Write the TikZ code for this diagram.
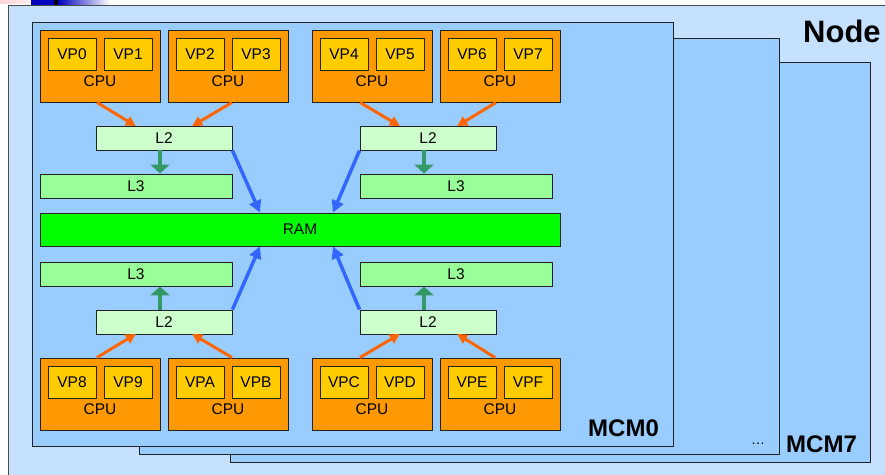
\documentclass[tikz,border=0pt]{standalone}
\usepackage{fontspec}
\setmainfont{Liberation Sans}
\usetikzlibrary{arrows.meta}
\definecolor{outerbg}{HTML}{C6E1FF}
\definecolor{mcmbg}{HTML}{99CCFF}
\definecolor{cpuc}{HTML}{FF9900}
\definecolor{vpc}{HTML}{FFCC00}
\definecolor{ltwo}{HTML}{CCFFCC}
\definecolor{lthree}{HTML}{99FF99}
\definecolor{ramc}{HTML}{00FF00}
\definecolor{oarrow}{HTML}{FF6600}
\definecolor{garrow}{HTML}{339966}
\definecolor{barrow}{HTML}{3366FF}
\definecolor{edge}{HTML}{222222}
\begin{document}
\begin{tikzpicture}[x=1pt,y=-1pt,
  lbl/.style={font=\fontsize{15.5}{17}\selectfont, text=black, inner sep=0pt},
  bigl/.style={font=\fontsize{24}{28}\bfseries\selectfont, text=black, inner sep=0pt, anchor=base west},
  mcmbox/.style={draw=edge, line width=0.9pt, fill=mcmbg},
  cpubox/.style={draw=edge, line width=0.9pt, fill=cpuc, minimum width=120pt, minimum height=72pt, inner sep=0pt},
  vpbox/.style={draw=edge, line width=0.9pt, fill=vpc, minimum width=48pt, minimum height=32pt, inner sep=0pt, lbl},
  ltwobox/.style={draw=edge, line width=0.9pt, fill=ltwo, minimum width=136pt, minimum height=24pt, inner sep=0pt, lbl},
  lthreebox/.style={draw=edge, line width=0.9pt, fill=lthree, minimum width=192pt, minimum height=24pt, inner sep=0pt, lbl},
  rambox/.style={draw=edge, line width=0.9pt, fill=ramc, minimum width=520pt, minimum height=33pt, inner sep=0pt, lbl},
  oarr/.style={draw=oarrow, line width=3pt, -{Triangle[length=10pt,width=10pt]}, shorten >=-1pt},
  garr/.style={draw=garrow, line width=4.5pt, -{Triangle[length=9pt,width=19pt]}},
  barr/.style={draw=barrow, line width=3.5pt, -{Triangle[length=12pt,width=12pt]}}
]
\useasboundingbox (0,0) rectangle (885,474);
\fill[white] (0,0) rectangle (885,474);
% top-left decoration
\shade[left color=pink!70, right color=white] (0,0) rectangle (47,3);
\fill[blue!75!black] (31,0) rectangle (54,6);
\fill[black] (54,0) rectangle (58,6);
\shade[left color=blue!75!black, right color=white] (58,0) rectangle (110,6);
% outer node box
\draw[draw=black!70, line width=0.9pt, fill=outerbg] (8,5) rectangle (900,490);
\node[font=\fontsize{31}{34}\bfseries\selectfont, inner sep=0pt, anchor=base west] (nodelbl) at (803,42) {Node};
% MCM boxes (back to front)
\draw[mcmbox] (230,62) rectangle (870,462);
\draw[mcmbox] (139,38) rectangle (779,454);
\draw[mcmbox] (32,22) rectangle (673,446);
\node[bigl] (mcm7) at (786,452) {MCM7};
\node[font=\fontsize{14}{16}\selectfont, inner sep=0pt, anchor=base west] (dots) at (751,444) {\ldots};
\node[bigl] (mcm0) at (588,436) {MCM0};
% CPUs top
\foreach \n/\x/\a/\b in {c1/100/VP0/VP1, c2/228/VP2/VP3, c3/372/VP4/VP5, c4/500/VP6/VP7}{
  \node[cpubox] (\n) at (\x,66) {};
  \node[vpbox] (\n a) at (\x-28,54) {\a};
  \node[vpbox] (\n b) at (\x+28,54) {\b};
  \node[lbl] (\n l) at (\x,81) {CPU};
}
% CPUs bottom
\foreach \n/\x/\a/\b in {c5/100/VP8/VP9, c6/228/VPA/VPB, c7/372/VPC/VPD, c8/500/VPE/VPF}{
  \node[cpubox] (\n) at (\x,394) {};
  \node[vpbox] (\n a) at (\x-28,382) {\a};
  \node[vpbox] (\n b) at (\x+28,382) {\b};
  \node[lbl] (\n l) at (\x,409) {CPU};
}
% caches and RAM
\node[ltwobox] (l2a) at (164,138) {L2};
\node[ltwobox] (l2b) at (428,138) {L2};
\node[lthreebox] (l3a) at (136,186) {L3};
\node[lthreebox] (l3b) at (456,186) {L3};
\node[rambox] (ram) at (300,229.5) {RAM};
\node[lthreebox] (l3c) at (136,274) {L3};
\node[lthreebox] (l3d) at (456,274) {L3};
\node[ltwobox] (l2c) at (164,322) {L2};
\node[ltwobox] (l2d) at (428,322) {L2};
% orange arrows
\draw[oarr] ([xshift=-3pt]c1.south) -- ([xshift=-29pt]l2a.north);
\draw[oarr] ([xshift=4pt]c2.south) -- ([xshift=29pt]l2a.north);
\draw[oarr] ([xshift=-12pt]c3.south) -- ([xshift=-29pt]l2b.north);
\draw[oarr] ([xshift=-4pt]c4.south) -- ([xshift=30pt]l2b.north);
\draw[oarr] ([xshift=-3pt]c5.north) -- ([xshift=-29pt]l2c.south);
\draw[oarr] ([xshift=4pt]c6.north) -- ([xshift=29pt]l2c.south);
\draw[oarr] ([xshift=-12pt]c7.north) -- ([xshift=-29pt]l2d.south);
\draw[oarr] ([xshift=-5pt]c8.north) -- ([xshift=30pt]l2d.south);
% green arrows
\draw[garr] ([xshift=-4pt]l2a.south) -- ([xshift=24pt]l3a.north);
\draw[garr] ([xshift=-4pt]l2b.south) -- ([xshift=-32pt]l3b.north);
\draw[garr] ([xshift=-4pt]l2c.north) -- ([xshift=24pt]l3c.south);
\draw[garr] ([xshift=-4pt]l2d.north) -- ([xshift=-32pt]l3d.south);
% blue arrows
\draw[barr] (l2a.south east) -- ([xshift=-40pt]ram.north);
\draw[barr] (l2b.south west) -- ([xshift=33pt]ram.north);
\draw[barr] (l2c.north east) -- ([xshift=-40pt]ram.south);
\draw[barr] (l2d.north west) -- ([xshift=33pt]ram.south);
\end{tikzpicture}
\end{document}
